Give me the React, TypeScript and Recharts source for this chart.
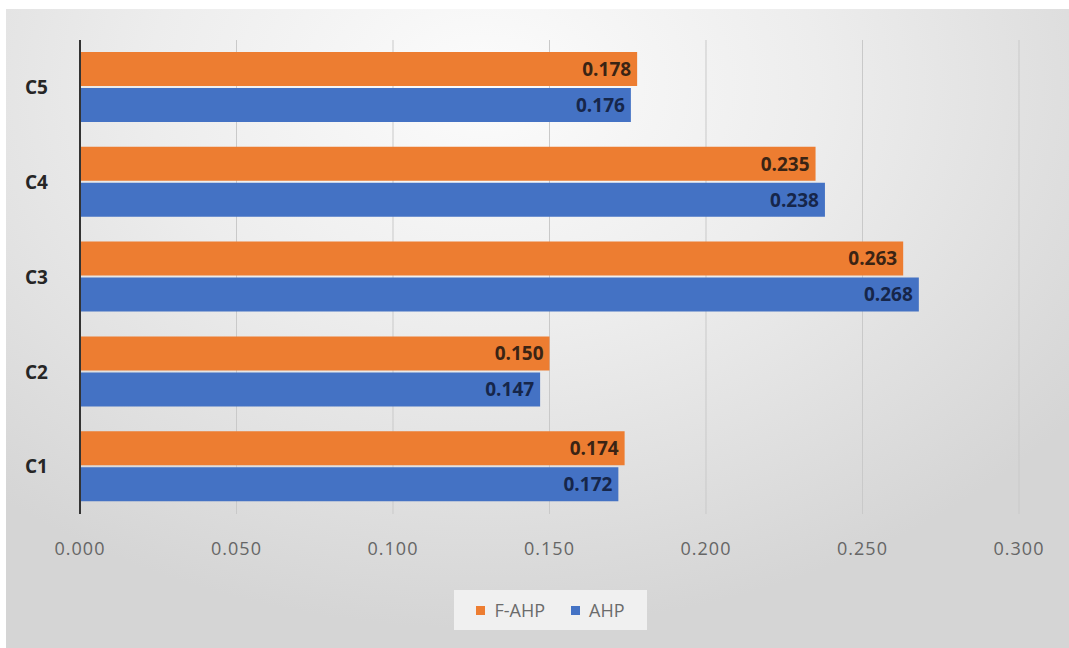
import React from "react";
import {
  BarChart,
  Bar,
  XAxis,
  YAxis,
  CartesianGrid,
  Legend,
  LabelList,
} from "recharts";

// criteria listed top to bottom
const criteria = ["C5", "C4", "C3", "C2", "C1"];
const fahpWeights = [0.178, 0.235, 0.263, 0.15, 0.174];
const ahpWeights = [0.176, 0.238, 0.268, 0.147, 0.172];
const xTicks = [0, 0.05, 0.1, 0.15, 0.2, 0.25, 0.3];
const seriesNames = ["F-AHP", "AHP"];

const ORANGE = "#ED7D31";
const BLUE = "#4472C4";
const FONT = "'Open Sans', 'Liberation Sans', sans-serif";

const data = criteria.map((name, i) => ({
  name,
  fahp: fahpWeights[i],
  ahp: ahpWeights[i],
}));

const fmt = (v: number) => Number(v).toFixed(3);

// keep legend entries in series order (vertical layout flips the payload)
function LegendBox({ payload }: any) {
  const items = seriesNames
    .map((n) => (payload || []).find((p: any) => p.value === n))
    .filter(Boolean);
  return (
    <div
      style={{
        display: "flex",
        justifyContent: "center",
        width: "100%",
        paddingLeft: 82,
        boxSizing: "border-box",
      }}
    >
      <div
        style={{
          display: "inline-flex",
          alignItems: "center",
          gap: 26,
          padding: "8px 22px",
          background: "rgba(246,246,246,0.8)",
          fontFamily: FONT,
          fontSize: 18,
          color: "#6b6b6b",
        }}
      >
        {items.map((p: any) => (
          <span key={p.value} style={{ display: "inline-flex", alignItems: "center" }}>
            <span
              style={{
                width: 9,
                height: 9,
                background: p.color,
                marginRight: 9,
                display: "inline-block",
              }}
            />
            {p.value}
          </span>
        ))}
      </div>
    </div>
  );
}

export default function App() {
  return (
    <div
      style={{
        position: "absolute",
        left: 0,
        top: 0,
        width: 1069,
        height: 648,
        background: "#ffffff",
        overflow: "hidden",
      }}
    >
      <div
        style={{
          position: "absolute",
          left: 6,
          top: 9,
          right: 0,
          bottom: 0,
          background:
            "radial-gradient(ellipse 70% 85% at 45% 12%, #fcfcfc 0%, #ededed 45%, #d5d5d5 100%)",
        }}
      />
      <BarChart
        width={1069}
        height={648}
        data={data}
        layout="vertical"
        margin={{ top: 40, right: 50, bottom: 18, left: 0 }}
        barSize={34}
        barGap={2}
        style={{ position: "absolute", left: 0, top: 0 }}
      >
        <CartesianGrid horizontal={false} stroke="#c9c9c9" strokeWidth={1} />
        <XAxis
          type="number"
          domain={[0, 0.3]}
          ticks={xTicks}
          tickFormatter={fmt}
          axisLine={false}
          tickLine={false}
          tickSize={0}
          tickMargin={28}
          height={76}
          tick={{ fill: "#666666", fontSize: 18, fontFamily: FONT, letterSpacing: 1 }}
        />
        <YAxis
          type="category"
          dataKey="name"
          width={80}
          axisLine={{ stroke: "#333333", strokeWidth: 2 }}
          tickLine={false}
          tickMargin={26}
          tick={{ fill: "#262626", fontSize: 19, fontWeight: 700, fontFamily: FONT }}
        />
        <Legend
          verticalAlign="bottom"
          align="center"
          height={40}
          content={<LegendBox />}
        />
        <Bar dataKey="fahp" name="F-AHP" fill={ORANGE} isAnimationActive={false}>
          <LabelList
            dataKey="fahp"
            position="insideRight"
            offset={6}
            formatter={fmt}
            fill="#3a2414"
            fontSize={19}
            fontWeight={700}
            fontFamily={FONT}
          />
        </Bar>
        <Bar dataKey="ahp" name="AHP" fill={BLUE} isAnimationActive={false}>
          <LabelList
            dataKey="ahp"
            position="insideRight"
            offset={6}
            formatter={fmt}
            fill="#16264a"
            fontSize={19}
            fontWeight={700}
            fontFamily={FONT}
          />
        </Bar>
      </BarChart>
    </div>
  );
}
